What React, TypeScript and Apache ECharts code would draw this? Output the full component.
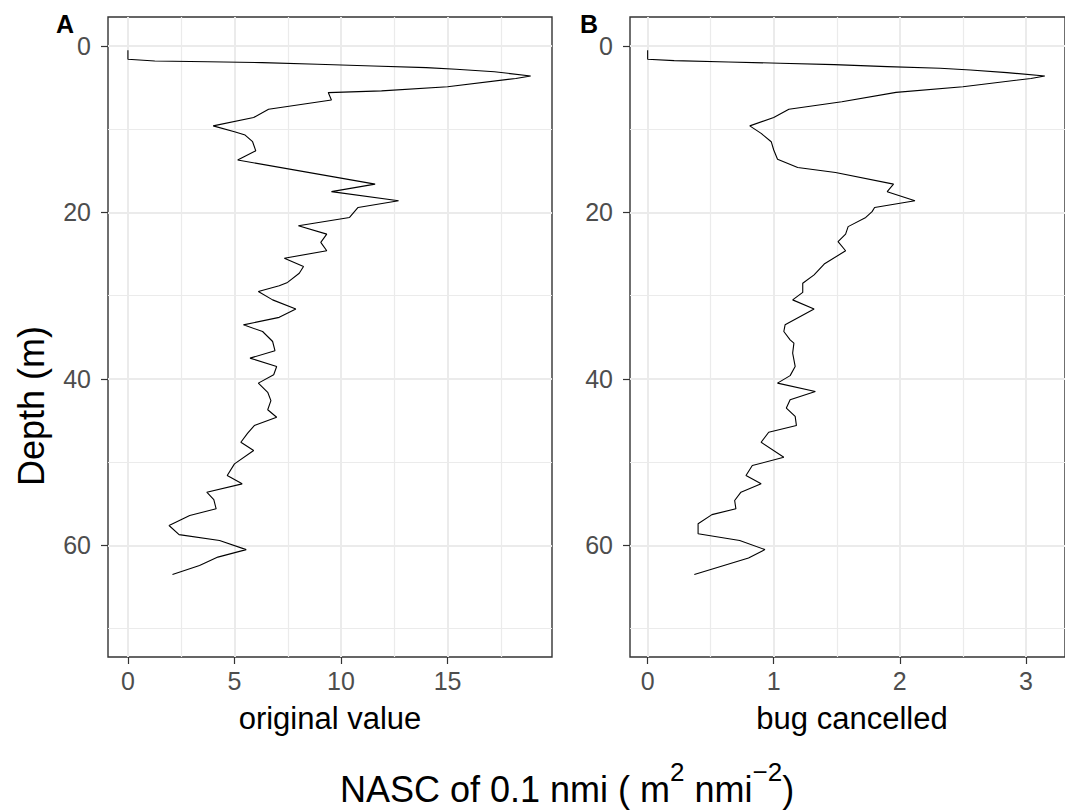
import React, { useEffect, useRef } from 'react';
import * as echarts from 'echarts';

// ---- data ----
const depthA = [0.5, 1.6, 1.8, 1.9, 2.0, 2.2, 2.4, 2.6, 2.8, 3.1, 3.6, 3.9, 4.9, 5.4, 5.6, 6.5, 7.6, 8.6, 9.6, 10.3, 10.7, 11.5, 12.6, 13.7, 16.6, 17.5, 18.6, 19.4, 20.6, 21.6, 22.6, 23.6, 24.6, 25.5, 26.5, 27.3, 28.4, 28.8, 29.5, 30.5, 31.6, 32.6, 33.5, 34.3, 35.5, 36.6, 37.5, 38.5, 39.5, 40.5, 41.6, 42.6, 43.7, 44.6, 45.6, 46.5, 47.6, 48.6, 50.2, 51.6, 52.6, 53.6, 54.5, 55.6, 56.4, 57.6, 58.7, 59.4, 60.5, 61.4, 62.4, 63.5];
const valueA = [0, 0, 1.26, 3.75, 6.3, 8.9, 11.5, 14.0, 15.4, 17.2, 18.9, 18.2, 15.0, 11.9, 9.4, 9.55, 6.6, 5.9, 4.0, 5.0, 5.5, 5.85, 6.0, 5.15, 11.6, 9.55, 12.7, 10.8, 10.4, 8.0, 9.33, 9.05, 9.33, 7.34, 8.24, 8.04, 7.49, 7.1, 6.12, 6.79, 7.88, 7.1, 5.42, 6.32, 6.79, 6.9, 5.73, 6.98, 6.84, 6.12, 6.56, 6.71, 6.56, 6.98, 5.93, 5.62, 5.3, 5.9, 5.0, 4.66, 5.36, 3.7, 4.03, 4.14, 2.9, 1.93, 2.4, 4.3, 5.55, 4.22, 3.36, 2.09];

const depthB = [0.5, 1.6, 1.76, 1.92, 2.08, 2.24, 2.48, 2.68, 2.88, 3.2, 3.6, 3.9, 4.9, 5.57, 6.7, 7.6, 8.6, 9.6, 10.5, 11.5, 12.5, 13.6, 14.6, 15.2, 16.6, 17.5, 18.6, 19.4, 19.9, 20.6, 21.7, 22.6, 23.5, 24.6, 26.2, 27.5, 28.5, 29.6, 30.5, 31.6, 33.5, 34.3, 35.3, 35.7, 36.9, 38.5, 39.6, 40.5, 41.5, 42.5, 43.5, 44.5, 45.6, 46.4, 47.6, 49.4, 50.4, 51.6, 52.6, 53.6, 54.6, 55.6, 56.3, 57.4, 58.6, 59.4, 60.5, 61.5, 63.5];
const valueB = [0, 0, 0.21, 0.64, 1.05, 1.48, 1.9, 2.32, 2.56, 2.85, 3.15, 3.04, 2.5, 1.97, 1.54, 1.12, 1.0, 0.81, 0.9, 0.98, 1.0, 1.03, 1.19, 1.49, 1.95, 1.9, 2.12, 1.8, 1.78, 1.73, 1.59, 1.57, 1.51, 1.57, 1.4, 1.32, 1.23, 1.23, 1.15, 1.32, 1.09, 1.08, 1.13, 1.16, 1.15, 1.17, 1.13, 1.03, 1.33, 1.13, 1.1, 1.17, 1.18, 0.96, 0.9, 1.08, 0.83, 0.78, 0.9, 0.74, 0.69, 0.7, 0.51, 0.4, 0.4, 0.73, 0.93, 0.8, 0.37];

const depthMajorTicks = [0, 20, 40, 60];
const depthMinorTicks = [10, 30, 50, 70];
const xMajorA = [0, 5, 10, 15];
const xMinorA = [2.5, 7.5, 12.5, 17.5];
const xMajorB = [0, 1, 2, 3];
const xMinorB = [0.5, 1.5, 2.5];
const panelTags = ['A', 'B'];
const panelTitles = ['original value', 'bug cancelled'];
const yTitle = 'Depth (m)';

const FONT = "'Liberation Sans', Arial, Helvetica, sans-serif";

function majorX(grid: number, min: number, max: number, ticks: number[]) {
  return {
    type: 'value', gridIndex: grid, min, max, position: 'bottom',
    axisLine: { show: false, onZero: false },
    axisTick: { show: true, length: 7, lineStyle: { color: '#333333', width: 1.2 }, customValues: ticks },
    axisLabel: { show: true, customValues: ticks, color: '#4D4D4D', fontSize: 25, fontFamily: FONT, margin: 11 },
    splitLine: { show: true, lineStyle: { color: '#EBEBEB', width: 2 } },
  };
}
function minorX(grid: number, min: number, max: number, ticks: number[]) {
  return {
    type: 'value', gridIndex: grid, min, max, position: 'bottom',
    axisLine: { show: false, onZero: false },
    axisTick: { show: false, customValues: ticks },
    axisLabel: { show: false, customValues: ticks },
    splitLine: { show: true, lineStyle: { color: '#EBEBEB', width: 1.2 } },
  };
}
function majorY(grid: number, min: number, max: number, ticks: number[]) {
  return {
    type: 'value', gridIndex: grid, min, max, inverse: true, position: 'left',
    axisLine: { show: false, onZero: false },
    axisTick: { show: true, length: 7, lineStyle: { color: '#333333', width: 1.2 }, customValues: ticks },
    axisLabel: { show: true, customValues: ticks, color: '#4D4D4D', fontSize: 25, fontFamily: FONT, margin: 17 },
    splitLine: { show: true, lineStyle: { color: '#EBEBEB', width: 2 } },
  };
}
function minorY(grid: number, min: number, max: number, ticks: number[]) {
  return {
    type: 'value', gridIndex: grid, min, max, inverse: true, position: 'left',
    axisLine: { show: false, onZero: false },
    axisTick: { show: false, customValues: ticks },
    axisLabel: { show: false, customValues: ticks },
    splitLine: { show: true, lineStyle: { color: '#EBEBEB', width: 1.2 } },
  };
}

export default function App() {
  const ref = useRef<HTMLDivElement>(null);
  useEffect(() => {
    if (!ref.current) return;
    const chart = echarts.init(ref.current, null, { renderer: 'svg' });
    const yMin = -3.48, yMax = 73.4;
    const aMin = -0.935, aMax = 19.9;
    const bMin = -0.14, bMax = 3.31;
    const gridCommon = { top: 17, width: 444, height: 640, show: true, backgroundColor: '#FFFFFF', borderColor: '#333333', borderWidth: 1.4, containLabel: false };
    const dataA = depthA.map((d, i) => [valueA[i], d]);
    const dataB = depthB.map((d, i) => [valueB[i], d]);
    chart.setOption({
      animation: false,
      backgroundColor: '#FFFFFF',
      grid: [
        { ...gridCommon, left: 108 },
        { ...gridCommon, left: 630 },
      ],
      xAxis: [
        majorX(0, aMin, aMax, xMajorA),
        minorX(0, aMin, aMax, xMinorA),
        majorX(1, bMin, bMax, xMajorB),
        minorX(1, bMin, bMax, xMinorB),
      ],
      yAxis: [
        majorY(0, yMin, yMax, depthMajorTicks),
        minorY(0, yMin, yMax, depthMinorTicks),
        majorY(1, yMin, yMax, depthMajorTicks),
        minorY(1, yMin, yMax, depthMinorTicks),
      ],
      series: [
        { type: 'line', xAxisIndex: 0, yAxisIndex: 0, data: dataA, showSymbol: false, symbol: 'none', lineStyle: { color: '#000000', width: 1.1 }, z: 5 },
        { type: 'line', xAxisIndex: 2, yAxisIndex: 2, data: dataB, showSymbol: false, symbol: 'none', lineStyle: { color: '#000000', width: 1.1 }, z: 5 },
      ],
      graphic: [
        { type: 'text', x: 56, y: 24, style: { text: panelTags[0], font: `bold 25px ${FONT}`, fill: '#000000', align: 'left', verticalAlign: 'middle' } },
        { type: 'text', x: 580, y: 24, style: { text: panelTags[1], font: `bold 25px ${FONT}`, fill: '#000000', align: 'left', verticalAlign: 'middle' } },
        { type: 'text', x: 31, y: 406, rotation: Math.PI / 2, style: { text: yTitle, font: `36px ${FONT}`, fill: '#000000', align: 'center', verticalAlign: 'middle' } },
        { type: 'text', x: 330, y: 718, style: { text: panelTitles[0], font: `31px ${FONT}`, fill: '#000000', align: 'center', verticalAlign: 'middle' } },
        { type: 'text', x: 852, y: 718, style: { text: panelTitles[1], font: `31px ${FONT}`, fill: '#000000', align: 'center', verticalAlign: 'middle' } },
        {
          type: 'text', x: 340, y: 759,
          style: {
            text: '{a|NASC of 0.1 nmi ( m}{b|2}{a| nmi}{b|\u22122}{a|)}',
            align: 'left', verticalAlign: 'top', fill: '#000000',
            rich: {
              a: { fontSize: 36, fontFamily: FONT, lineHeight: 48, verticalAlign: 'bottom', fill: '#000000' },
              b: { fontSize: 26, fontFamily: FONT, lineHeight: 26, verticalAlign: 'top', fill: '#000000' },
            },
          },
        },
      ],
    });
    return () => chart.dispose();
  }, []);
  return <div ref={ref} style={{ position: 'absolute', left: 0, top: 0, width: 1065, height: 810 }} />;
}
